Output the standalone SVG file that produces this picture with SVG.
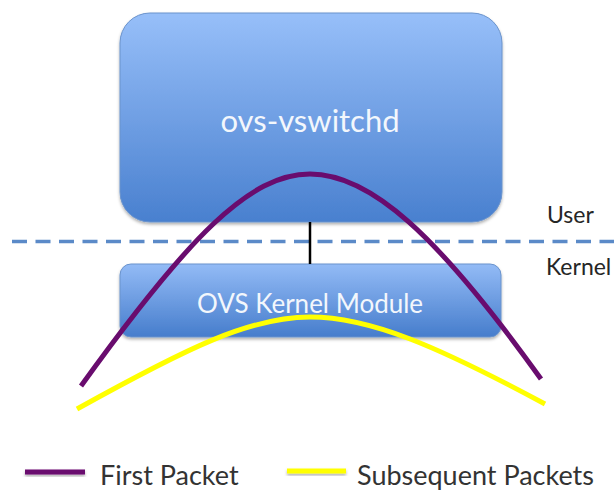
<svg xmlns="http://www.w3.org/2000/svg" width="614" height="490" viewBox="0 0 614 490">
  <defs>
    <linearGradient id="gTop" x1="0" y1="0" x2="0" y2="1">
      <stop offset="0" stop-color="#97bff9"/>
      <stop offset="1" stop-color="#4980cf"/>
    </linearGradient>
    <linearGradient id="gKern" x1="0" y1="0" x2="0" y2="1">
      <stop offset="0" stop-color="#93bbf6"/>
      <stop offset="1" stop-color="#467dcc"/>
    </linearGradient>
    <filter id="sh" x="-20%" y="-50%" width="140%" height="200%">
      <feDropShadow dx="0" dy="2" stdDeviation="1.5" flood-color="#000" flood-opacity="0.3"/>
    </filter>
  </defs>
  <style>
    .box { stroke: #6a93cc; stroke-width: 1; filter: url(#sh); }
    .boxlabel { font-family: Lato, "Open Sans", sans-serif; fill: #f3f7fc; text-anchor: middle; }
    .side { font-family: Lato, "Open Sans", sans-serif; font-size: 23px; fill: #262626; }
    .legend { font-family: Lato, "Open Sans", sans-serif; font-size: 27px; fill: #333333; }
    .first { fill: none; stroke: #690c6e; stroke-width: 5; stroke-linecap: butt; }
    .subs { fill: none; stroke: #ffff00; stroke-width: 5; stroke-linecap: butt; }
    .swatch { filter: url(#sh); }
  </style>
  <rect width="614" height="490" fill="#ffffff"/>

  <g id="ovs-vswitchd">
    <rect class="box" x="120" y="13" width="382" height="209" rx="30" ry="30" fill="url(#gTop)"/>
    <text class="boxlabel" x="310" y="132" font-size="31">ovs-vswitchd</text>
  </g>

  <g id="kernel-module">
    <rect class="box" x="120" y="264" width="381" height="73" rx="11" ry="11" fill="url(#gKern)"/>
    <text class="boxlabel" x="310" y="313" font-size="26">OVS Kernel Module</text>
  </g>

  <g id="labels">
    <text class="side" x="547" y="223">User</text>
    <text class="side" x="546" y="275">Kernel</text>
  </g>

  <g id="connectors">
    <line x1="12" y1="241.5" x2="614" y2="241.5" stroke="#5b8ac8" stroke-width="3.5" stroke-dasharray="15 8.5"/>
    <line x1="310" y1="222" x2="310" y2="264" stroke="#000000" stroke-width="2.5"/>
    <path class="first" d="M81 386 C189 236 250 174 310 174 C370 174 437 234 541 379"/>
    <path class="subs" d="M77 409 C187 348 250 317 310 317 C370 317 437 346 545 404"/>
  </g>

  <g id="legend">
    <rect class="swatch" x="25" y="469.5" width="60" height="5" fill="#690c6e"/>
    <text class="legend" x="100" y="485">First Packet</text>
    <rect class="swatch" x="287" y="468.5" width="59" height="5" fill="#ffff00"/>
    <text class="legend" x="357" y="485">Subsequent Packets</text>
  </g>
</svg>
